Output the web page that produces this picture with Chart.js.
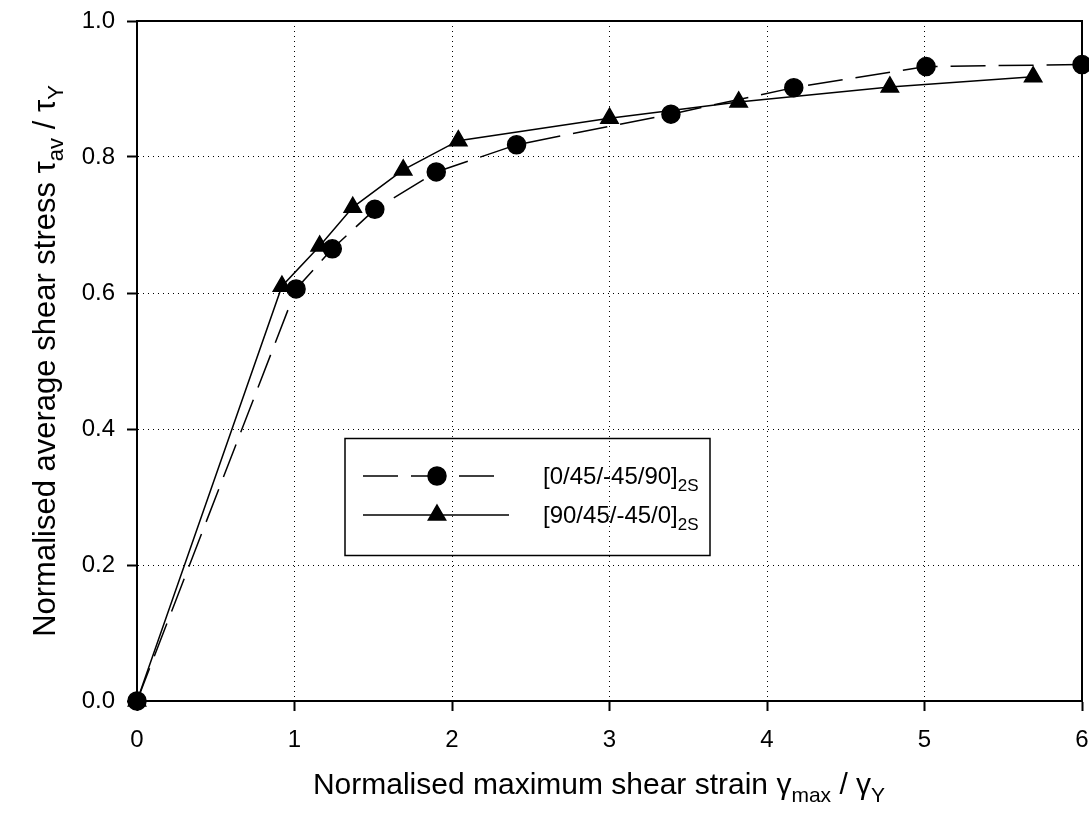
<!DOCTYPE html>
<html>
<head>
<meta charset="utf-8">
<script src="https://cdn.jsdelivr.net/npm/chart.js@4/dist/chart.umd.min.js"></script>
<style>
  body { margin: 0; background: #fff; }
  canvas { display: block; }
</style>
</head>
<body>
<canvas id="myChart" width="1089" height="823"></canvas>
<script>
// [0/45/-45/90]2S  (circles, dashed)
const circleX = [0, 1.01, 1.24, 1.51, 1.90, 2.41, 3.39, 4.17, 5.01, 6.00];
const circleY = [0, 0.606, 0.665, 0.723, 0.778, 0.818, 0.863, 0.902, 0.933, 0.936];
// [90/45/-45/0]2S  (triangles, solid)
const triX = [0, 0.92, 1.16, 1.37, 1.69, 2.04, 3.00, 3.82, 4.78, 5.69];
const triY = [0, 0.610, 0.669, 0.726, 0.781, 0.824, 0.857, 0.881, 0.903, 0.918];

const legendLabels = ['[0/45/-45/90]', '[90/45/-45/0]'];
const legendSub = '2S';

const xTicks = [0, 1, 2, 3, 4, 5, 6];
const yTicks = [0, 0.2, 0.4, 0.6, 0.8, 1.0];

const FONT = '"Liberation Sans", Arial, sans-serif';

function toPoints(xs, ys) {
    return xs.map((x, i) => ({ x: x, y: ys[i] }));
}

// draws a run of [text, isSub] pieces starting at x, baseline y
function drawRich(ctx, parts, x, y, size, subSize, subDrop) {
    parts.forEach(p => {
        ctx.font = (p[1] ? subSize : size) + 'px ' + FONT;
        ctx.fillText(p[0], x, y + (p[1] ? subDrop : 0));
        x += ctx.measureText(p[0]).width;
    });
}

function richWidth(ctx, parts, size, subSize) {
    let w = 0;
    parts.forEach(p => {
        ctx.font = (p[1] ? subSize : size) + 'px ' + FONT;
        w += ctx.measureText(p[0]).width;
    });
    return w;
}

const framePlugin = {
    id: 'frame',
    afterDraw(chart) {
        const ctx = chart.ctx;
        const a = chart.chartArea;
        ctx.save();
        ctx.strokeStyle = '#000';
        ctx.lineWidth = 2;
        ctx.beginPath();
        ctx.moveTo(a.left, a.top);
        ctx.lineTo(a.right, a.top);
        ctx.lineTo(a.right, a.bottom);
        ctx.stroke();

        // axis titles
        ctx.fillStyle = '#000';
        ctx.textBaseline = 'alphabetic';
        ctx.textAlign = 'left';
        const xParts = [['Normalised maximum shear strain \u03b3', false], ['max', true], [' / \u03b3', false], ['Y', true]];
        const xw = richWidth(ctx, xParts, 30, 21);
        drawRich(ctx, xParts, 599 - xw / 2, 794, 30, 21, 8);

        const yParts = [['Normalised average shear stress \u03c4', false], ['av', true], [' / \u03c4', false], ['Y', true]];
        const yw = richWidth(ctx, yParts, 31, 22);
        ctx.save();
        ctx.translate(55, 361);
        ctx.rotate(-Math.PI / 2);
        drawRich(ctx, yParts, -yw / 2, 0, 31, 22, 8);
        ctx.restore();

        // legend box
        ctx.lineWidth = 1.5;
        ctx.strokeRect(345, 438.5, 365, 117);
        const rows = [476, 515];
        chart.data.datasets.forEach((ds, i) => {
            const y = rows[i];
            ctx.save();
            ctx.lineWidth = ds.borderWidth;
            ctx.setLineDash(ds.borderDash || []);
            ctx.beginPath();
            ctx.moveTo(363, y);
            ctx.lineTo(ds.borderDash ? 496 : 509, y);
            ctx.stroke();
            ctx.restore();
            Chart.helpers.drawPoint(ctx, {
                pointStyle: ds.pointStyle,
                radius: ds.pointRadius,
                borderWidth: 1
            }, 437, y);
            ctx.fill();
            drawRich(ctx, [[legendLabels[i], false], [legendSub, true]], 543, y + 8, 24, 17, 7);
        });
        ctx.restore();
    }
};

const ctx = document.getElementById('myChart').getContext('2d');

const config = {
    type: 'scatter',
    data: {
        datasets: [{
            label: legendLabels[0] + legendSub,
            data: toPoints(circleX, circleY),
            showLine: true,
            borderColor: '#000',
            backgroundColor: '#000',
            borderWidth: 1.5,
            borderDash: [35, 13],
            pointStyle: 'circle',
            pointRadius: 9,
            pointHoverRadius: 9,
            clip: false
        }, {
            label: legendLabels[1] + legendSub,
            data: toPoints(triX, triY),
            showLine: true,
            borderColor: '#000',
            backgroundColor: '#000',
            borderWidth: 1.5,
            pointStyle: 'triangle',
            pointRadius: 10,
            pointHoverRadius: 10,
            clip: false
        }]
    },
    options: {
        responsive: false,
        animation: false,
        events: [],
        layout: { autoPadding: false, padding: { top: 21, right: 7, left: 0, bottom: 0 } },
        plugins: {
            legend: { display: false },
            tooltip: { enabled: false }
        },
        scales: {
            x: {
                type: 'linear',
                min: 0,
                max: 6,
                afterBuildTicks: (scale) => { scale.ticks = xTicks.map(v => ({ value: v })); },
                afterFit: (scale) => {
                    scale.height = 122;
                    scale.paddingLeft = 0;
                    scale.paddingRight = 0;
                },
                ticks: {
                    color: '#000',
                    padding: 15,
                    font: { family: FONT, size: 24 },
                    callback: (v) => v.toFixed(0)
                },
                grid: { color: '#000', lineWidth: 1, tickLength: 10, tickWidth: 2 },
                border: { display: true, color: '#000', width: 2, dash: [1, 4] }
            },
            y: {
                type: 'linear',
                min: 0,
                max: 1,
                afterBuildTicks: (scale) => { scale.ticks = yTicks.map(v => ({ value: v })); },
                afterFit: (scale) => {
                    scale.width = 137;
                    scale.paddingTop = 0;
                    scale.paddingBottom = 0;
                },
                ticks: {
                    color: '#000',
                    padding: 12,
                    font: { family: FONT, size: 24 },
                    callback: (v) => v.toFixed(1)
                },
                grid: { color: '#000', lineWidth: 1, tickLength: 10, tickWidth: 2 },
                border: { display: true, color: '#000', width: 2, dash: [1, 4] }
            }
        }
    },
    plugins: [framePlugin]
};

const chart = new Chart(ctx, config);
</script>
</body>
</html>
